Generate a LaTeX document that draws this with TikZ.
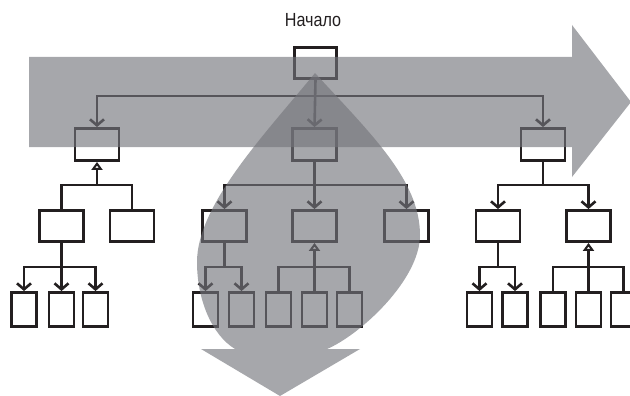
\documentclass[tikz,border=0pt]{standalone}
\usepackage{fontspec}
\setmainfont{Liberation Sans}
\usetikzlibrary{arrows.meta}
\definecolor{ink}{RGB}{35,31,32}
\definecolor{shade}{RGB}{116,117,123}
\begin{document}
\begin{tikzpicture}[x=1pt,y=-1pt,
  boxbase/.style={draw=ink, line width=2.9pt, inner sep=0pt},
  rootbox/.style={boxbase, minimum width=42pt, minimum height=31pt},
  lvtwo/.style={boxbase, minimum width=44pt, minimum height=32pt},
  lvthree/.style={boxbase, minimum width=44pt, minimum height=31pt},
  leafbox/.style={boxbase, minimum width=25pt, minimum height=34pt},
  conn/.style={draw=ink, line width=2.6pt},
  arr/.style={conn, -{Straight Barb[length=6pt,width=14pt]}},
  tri/.style={conn, -{Triangle[open,length=8pt,width=11pt,fill=white,line width=2pt]}},
  overlay/.style={fill=shade, fill opacity=0.64}
]
\clip (0,0) rectangle (630,396);
% title
\node[font=\fontsize{19}{22}\selectfont, text=ink] (title) at (313,20) {\scalebox{0.85}[1]{Начало}};
% root
\node[rootbox] (root) at (315.5,63) {};
% level 2
\node[lvtwo] (l2) at (97,144.5) {};
\node[lvtwo] (m2) at (314.5,144.5) {};
\node[lvtwo] (r2) at (543,144.5) {};
% level 3
\node[lvthree] (a3) at (61.5,226) {};
\node[lvthree] (b3) at (132,226) {};
\node[lvthree] (ma3) at (224.5,226) {};
\node[lvthree] (mb3) at (314.5,226) {};
\node[lvthree] (mc3) at (406.5,226) {};
\node[lvthree] (ra3) at (498,226) {};
\node[lvthree] (rb3) at (588.5,226) {};
% level 4
\node[leafbox] (a4a) at (24,309.5) {};
\node[leafbox] (a4b) at (61.5,309.5) {};
\node[leafbox] (a4c) at (95.5,309.5) {};
\node[leafbox] (m4a) at (205.5,309.5) {};
\node[leafbox] (m4b) at (241.5,309.5) {};
\node[leafbox] (m4c) at (278.5,309.5) {};
\node[leafbox] (m4d) at (314.5,309.5) {};
\node[leafbox] (m4e) at (349.5,309.5) {};
\node[leafbox] (r4a) at (479.5,309.5) {};
\node[leafbox] (r4b) at (515,309.5) {};
\node[leafbox] (r4c) at (553,309.5) {};
\node[leafbox] (r4d) at (588.5,309.5) {};
\node[leafbox] (r4e) at (623.5,309.5) {};
% root connectors
\draw[arr] (root.south) -- (m2.north);
\draw[arr] (root.south) ++(0,16) -| (l2.north);
\draw[arr] (root.south) ++(0,16) -| (r2.north);
% left subtree
\draw[conn] (a3.north) -- ++(0,-24) -| (b3.north);
\draw[tri] (a3.north) ++(0,-24) -| (l2.south);
\draw[arr] (a3.south) -- (a4b.north);
\draw[arr] (a3.south) ++(0,24) -| (a4a.north);
\draw[arr] (a3.south) ++(0,24) -| (a4c.north);
% middle subtree
\draw[arr] (m2.south) -- (mb3.north);
\draw[arr] (m2.south) ++(0,23) -| (ma3.north);
\draw[arr] (m2.south) ++(0,23) -| (mc3.north);
\draw[conn] (ma3.south) -- ++(0,24);
\draw[arr] (ma3.south) ++(0,24) -| (m4a.north);
\draw[arr] (ma3.south) ++(0,24) -| (m4b.north);
\draw[conn] (m4c.north) -- ++(0,-24) -| (m4e.north);
\draw[tri] (m4d.north) -- (mb3.south);
% right subtree
\draw[conn] (r2.south) -- ++(0,23);
\draw[arr] (r2.south) ++(0,23) -| (ra3.north);
\draw[arr] (r2.south) ++(0,23) -| (rb3.north);
\draw[conn] (ra3.south) -- ++(0,24);
\draw[arr] (ra3.south) ++(0,24) -| (r4a.north);
\draw[arr] (ra3.south) ++(0,24) -| (r4b.north);
\draw[conn] (r4c.north) -- ++(0,-24) -| (r4e.north);
\draw[tri] (r4d.north) -- (rb3.south);
% overlays
\fill[overlay] (29,57) -- (572,57) -- (572,25) -- (631,102) -- (572,177) -- (572,147) -- (29,147) -- cycle;
\fill[overlay] (315,73) .. controls (265,134) and (197,205) .. (197,262)
  .. controls (197,300) and (212,335) .. (235,349) -- (201,349) -- (280,396)
  -- (360,349) -- (327,349) .. controls (360,335) and (420,280) .. (420,235)
  .. controls (420,180) and (370,133) .. (315,73) -- cycle;
\end{tikzpicture}
\end{document}
